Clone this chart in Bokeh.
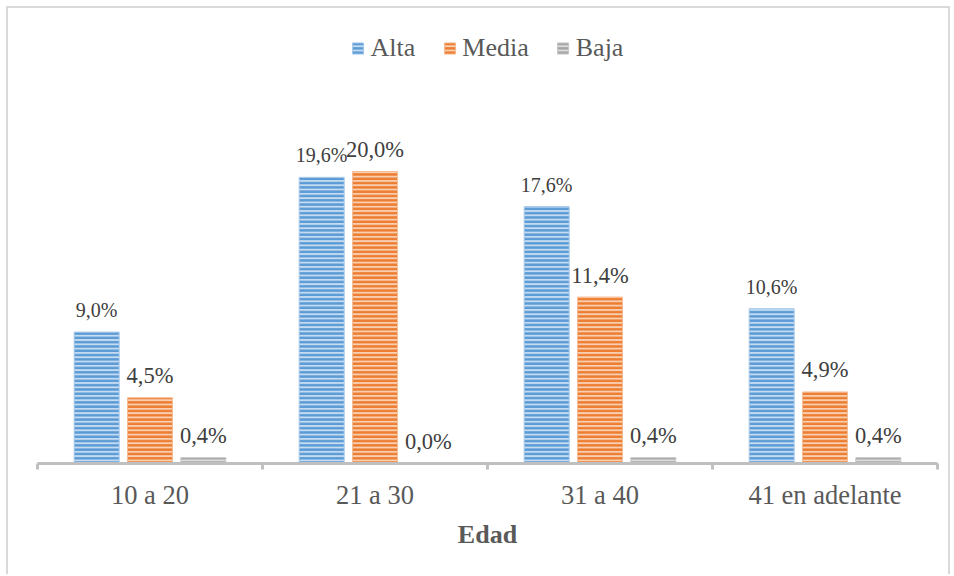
from bokeh.plotting import figure
from bokeh.models import (Range1d, FixedTicker, ColumnDataSource, Legend, LegendItem)
from bokeh.core.properties import value
from bokeh.embed import file_html
from bokeh.resources import INLINE

# Age groups and the share of each level (percent)
categories = ["10 a 20", "21 a 30", "31 a 40", "41 en adelante"]
series_names = ["Alta", "Media", "Baja"]
alta = [9.0, 19.6, 17.6, 10.6]
media = [4.5, 20.0, 11.4, 4.9]
baja = [0.4, 0.0, 0.4, 0.4]

FONT = "Liberation Serif"

p = figure(width=944, height=568, output_backend="svg", toolbar_location=None,
           x_range=Range1d(0, 4), y_range=Range1d(0, 30),
           min_border_left=29, min_border_right=15,
           min_border_top=17, min_border_bottom=113)
p.styles = {"margin-left": "6px", "margin-top": "6px",
            "border-top": "2px solid #d9d9d9",
            "border-left": "2px solid #d9d9d9",
            "border-right": "2px solid #d9d9d9"}
p.outline_line_color = None
p.background_fill_color = "white"
p.border_fill_color = "white"
p.grid.visible = False
p.yaxis.visible = False

# x axis: labels at group centres, small tick marks between groups
centers = [i + 0.5 for i in range(len(categories))]
bounds = [float(i) for i in range(len(categories) + 1)]
ax = p.xaxis[0]
ax.ticker = FixedTicker(ticks=centers, minor_ticks=bounds)
ax.major_label_overrides = {c: name for c, name in zip(centers, categories)}
ax.major_tick_line_color = None
ax.major_tick_in = 0
ax.major_tick_out = 0
ax.minor_tick_in = 0
ax.minor_tick_out = 6
ax.minor_tick_line_color = "#bfbfbf"
ax.minor_tick_line_width = 3
ax.axis_line_color = "#bfbfbf"
ax.axis_line_width = 3
ax.major_label_text_font = FONT
ax.major_label_text_font_size = "26.5px"
ax.major_label_text_color = "#595959"
ax.major_label_standoff = 10
ax.axis_label = "Edad"
ax.axis_label_text_font = FONT
ax.axis_label_text_font_size = "26px"
ax.axis_label_text_font_style = "bold"
ax.axis_label_text_color = "#595959"
ax.axis_label_standoff = 7

bar_w = 0.2
offsets = [-0.237, 0.0, 0.237]
styles = [
    dict(fill="#c4dbf2", hatch="#5b9bd5", edge="#a9caeb"),
    dict(fill="#f9cfb2", hatch="#ed7d31", edge="#f6bc94"),
    dict(fill="#dcdcdc", hatch="#a5a5a5", edge="#c8c8c8"),
]
label_sizes = ["20px", "22.5px", "22.5px"]

items = []
for name, vals, off, st, fs in zip(series_names, [alta, media, baja], offsets, styles, label_sizes):
    xs = [c + off for c in centers]
    src = ColumnDataSource(dict(
        x=xs, top=vals,
        label=[f"{v:.1f}%".replace(".", ",") for v in vals]))
    r = p.vbar(x="x", top="top", bottom=0, width=bar_w, source=src,
               fill_color=st["fill"], line_color=st["edge"], line_width=1,
               hatch_pattern="horizontal_line", hatch_color=st["hatch"],
               hatch_weight=2.6, hatch_scale=4.3)
    p.text(x="x", y="top", text="label", source=src,
           text_font=value(FONT), text_font_size=fs, text_color="#404040",
           text_align="center", text_baseline="alphabetic", y_offset=-22)
    items.append(LegendItem(label=name, renderers=[r]))

legend = Legend(items=items, orientation="horizontal", location="top_center",
                label_text_font=FONT, label_text_font_size="26px",
                label_text_color="#595959", glyph_width=14, glyph_height=14,
                label_standoff=6, spacing=27, margin=8, padding=15,
                border_line_color=None, background_fill_alpha=0)
p.add_layout(legend, "center")

open("out.html", "w").write(file_html(p, INLINE))
